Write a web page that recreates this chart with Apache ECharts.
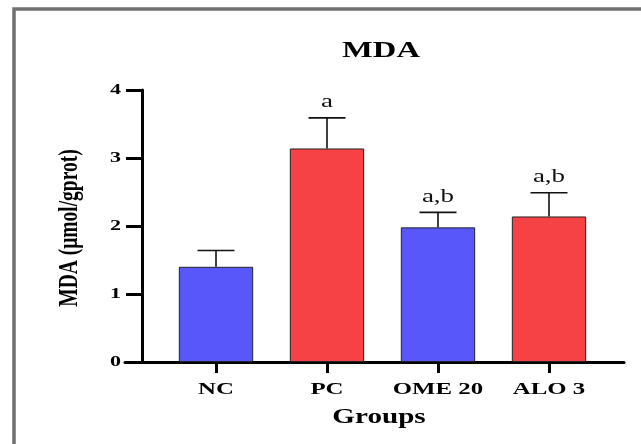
<!DOCTYPE html>
<html>
<head>
<meta charset="utf-8">
<script src="https://cdn.jsdelivr.net/npm/echarts@6/dist/echarts.min.js"></script>
<style>html,body{margin:0;padding:0;background:#fff;}#c{width:641px;height:444px;}</style>
</head>
<body>
<div id="c"></div>
<script>
var categories = ['NC', 'PC', 'OME 20', 'ALO 3'];
var means = [1.40, 3.14, 1.98, 2.14];
var errUpper = [1.64, 3.59, 2.20, 2.49];
var letters = ['', 'a', 'a,b', 'a,b'];
var barColors = ['#5858FA', '#F64244', '#5858FA', '#F64244'];
var yTicks = [0, 1, 2, 3, 4];
var titleText = 'MDA';
var xName = 'Groups';
var yName = 'MDA (μmol/gprot)';

var FONT = '"Liberation Serif", "Times New Roman", serif';
var SX = 1.42; // horizontal stretch of the reference text
var Y_OFFSET = 18.5;
var Y_TICK_LEN = 16;

var chart = echarts.init(document.getElementById('c'), null, {renderer: 'canvas'});

var option = {
  backgroundColor: '#fff',
  animation: false,
  graphic: [
    {type: 'rect', shape: {x: 14, y: 9, width: 700, height: 500},
      style: {fill: 'none', stroke: '#707070', lineWidth: 3.5}, silent: true, z: 100},
    {type: 'text', x: 381, y: 51, scaleX: SX, silent: true,
      style: {text: titleText, fill: '#000', fontFamily: FONT, fontWeight: 'bold', fontSize: 23,
        align: 'center', verticalAlign: 'middle'}},
    {type: 'text', x: 379, y: 418, scaleX: SX, silent: true,
      style: {text: xName, fill: '#000', fontFamily: FONT, fontWeight: 'bold', fontSize: 20.5,
        align: 'center', verticalAlign: 'middle'}},
    {type: 'text', x: 70, y: 228, rotation: Math.PI / 2, scaleY: SX, silent: true,
      style: {text: yName, fill: '#000', fontFamily: FONT, fontWeight: 'bold', fontSize: 19.5,
        align: 'center', verticalAlign: 'middle'}}
  ],
  grid: [
    {left: 160.5, right: 36.5, top: 90, bottom: 82},
    {left: 125, right: 17, top: 90, bottom: 82}
  ],
  xAxis: [
    {
      type: 'category', data: categories, gridIndex: 0,
      axisLine: {show: false},
      axisTick: {show: true, alignWithLabel: true, length: 11, lineStyle: {color: '#000', width: 3}},
      axisLabel: {show: false}
    },
    {
      type: 'value', gridIndex: 1, min: 0, max: 1,
      axisLine: {show: true, lineStyle: {color: '#000', width: 3}},
      axisTick: {show: false}, axisLabel: {show: false}, splitLine: {show: false}
    }
  ],
  yAxis: [
    {
      type: 'value', gridIndex: 0, min: 0, max: 4, interval: 1, offset: Y_OFFSET,
      axisLine: {show: true, lineStyle: {color: '#000', width: 3}},
      axisTick: {show: true, length: Y_TICK_LEN, lineStyle: {color: '#000', width: 3}},
      axisLabel: {show: false},
      splitLine: {show: false}
    },
    {type: 'value', gridIndex: 1, min: 0, max: 1, show: false}
  ],
  series: [
    {
      type: 'bar', xAxisIndex: 0, yAxisIndex: 0,
      barCategoryGap: '33%',
      data: means.map(function (v, i) {
        return {value: v, itemStyle: {color: barColors[i], borderColor: '#222', borderWidth: 1}};
      }),
      z: 2
    },
    {
      type: 'custom', xAxisIndex: 0, yAxisIndex: 0, z: 3, silent: true,
      data: means.map(function (v, i) { return [i, v, errUpper[i]]; }),
      renderItem: function (params, api) {
        var i = api.value(0);
        var base = api.coord([i, api.value(1)]);
        var top = api.coord([i, api.value(2)]);
        var half = 18.5;
        var lbl = letters[params.dataIndex];
        var children = [
          {type: 'line', shape: {x1: base[0], y1: base[1], x2: top[0], y2: top[1]},
            style: {stroke: '#111', lineWidth: 1.6}},
          {type: 'line', shape: {x1: top[0] - half, y1: top[1], x2: top[0] + half, y2: top[1]},
            style: {stroke: '#111', lineWidth: 1.6}}
        ];
        if (lbl) {
          children.push({type: 'text', x: top[0], y: top[1] - 6, scaleX: SX,
            style: {text: lbl, fill: '#111', fontFamily: FONT, fontSize: 19,
              align: 'center', verticalAlign: 'bottom'}});
        }
        return {type: 'group', children: children};
      }
    },
    {
      // category tick labels (stretched like the reference)
      type: 'custom', xAxisIndex: 0, yAxisIndex: 0, z: 3, silent: true,
      data: categories.map(function (c, i) { return [i, 0]; }),
      renderItem: function (params, api) {
        var p = api.coord([api.value(0), 0]);
        return {type: 'text', x: p[0], y: p[1] + 27, scaleX: SX,
          style: {text: categories[params.dataIndex], fill: '#000', fontFamily: FONT,
            fontWeight: 'bold', fontSize: 17.5, align: 'center', verticalAlign: 'middle'}};
      }
    },
    {
      // y tick labels
      type: 'custom', xAxisIndex: 0, yAxisIndex: 0, z: 3, silent: true,
      data: yTicks.map(function (v) { return [0, v]; }),
      renderItem: function (params, api) {
        var p = api.coord([0, api.value(1)]);
        var xr = params.coordSys.x - Y_OFFSET - Y_TICK_LEN - 5;
        return {type: 'text', x: xr, y: p[1], scaleX: SX,
          style: {text: String(yTicks[params.dataIndex]), fill: '#000', fontFamily: FONT,
            fontWeight: 'bold', fontSize: 15.5, align: 'right', verticalAlign: 'middle'}};
      }
    }
  ]
};
chart.setOption(option);
</script>
</body>
</html>
